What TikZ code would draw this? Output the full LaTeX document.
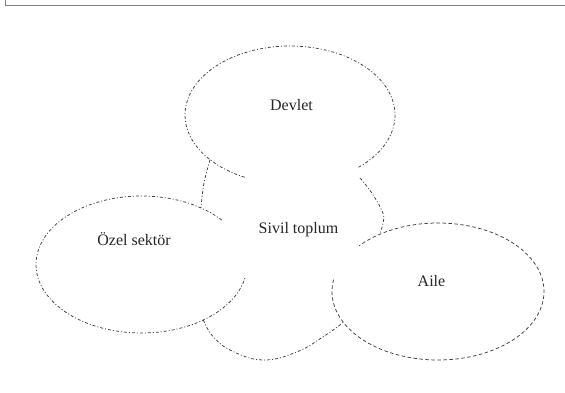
\documentclass[tikz,border=0pt]{standalone}
\usepackage{fontspec}
\setmainfont{Liberation Serif}
\begin{document}
\begin{tikzpicture}[x=1pt,y=1pt,
  frame/.style={draw=black!50,line width=1.3pt},
  dd/.style={draw=black!75,line width=0.75pt,dash pattern=on 3pt off 2pt on 1pt off 2pt},
  dsh/.style={draw=black!75,line width=0.75pt,dash pattern=on 3.5pt off 2.5pt},
  lbl/.style={font=\fontsize{16}{19}\selectfont,text=black!85,inner sep=0pt,anchor=base}]
\useasboundingbox (0,0) rectangle (565,392);
\fill[white] (0,0) rectangle (565,392);
% frame (top and left edges only)
\coordinate (fa) at (5.5,392);
\coordinate (fb) at (5.5,386.5);
\coordinate (fc) at (565,386.5);
\draw[frame] (fa) -- (fb) -- (fc);
% ellipse centres
\coordinate (dev) at (290,277);
\coordinate (oze) at (141.5,127.5);
\coordinate (ail) at (438,100.5);
% Devlet
\draw[dd] ([shift={(dev)}]-49.2:105 and 69) arc[start angle=-49.2,end angle=245.5,x radius=105,y radius=69];
% Ozel sektor
\draw[dd] ([shift={(oze)}]40.4:105.5 and 68.5) arc[start angle=40.4,end angle=349.5,x radius=105.5,y radius=68.5];
% Aile
\draw[dsh] ([shift={(ail)}]170:106 and 68.5) arc[start angle=170,end angle=498,x radius=106,y radius=68.5];
% Sivil toplum boundary pieces
\coordinate (s1a) at ([shift={(dev)}]220.4:105 and 69);
\coordinate (s1b) at ([shift={(oze)}]55.7:105.5 and 68.5);
\draw[dd] plot[smooth,tension=0.7] coordinates {(s1a) (204,209) (s1b)};
\coordinate (s2a) at (360,214);
\coordinate (s2b) at ([shift={(ail)}]123.2:106 and 68.5);
\draw[dd] plot[smooth,tension=0.7] coordinates {(s2a) (372,198.7) (382.5,180) (383.3,170.3) (s2b)};
\coordinate (s3a) at ([shift={(oze)}]305.9:105.5 and 68.5);
\coordinate (s3b) at ([shift={(ail)}]206.8:106 and 68.5);
\draw[dd] plot[smooth,tension=0.7] coordinates {(s3a) (213,55.5) (232,41) (263.3,32) (296.7,40) (323.3,55.3) (s3b)};
% labels
\node[lbl] (devlet) at (291.5,282) {Devlet};
\node[lbl] (sivil) at (298.5,158.7) {Sivil toplum};
\node[lbl] (ozel) at (134,147) {Özel sektör};
\node[lbl] (aile) at (431.5,105.3) {Aile};
\end{tikzpicture}
\end{document}
